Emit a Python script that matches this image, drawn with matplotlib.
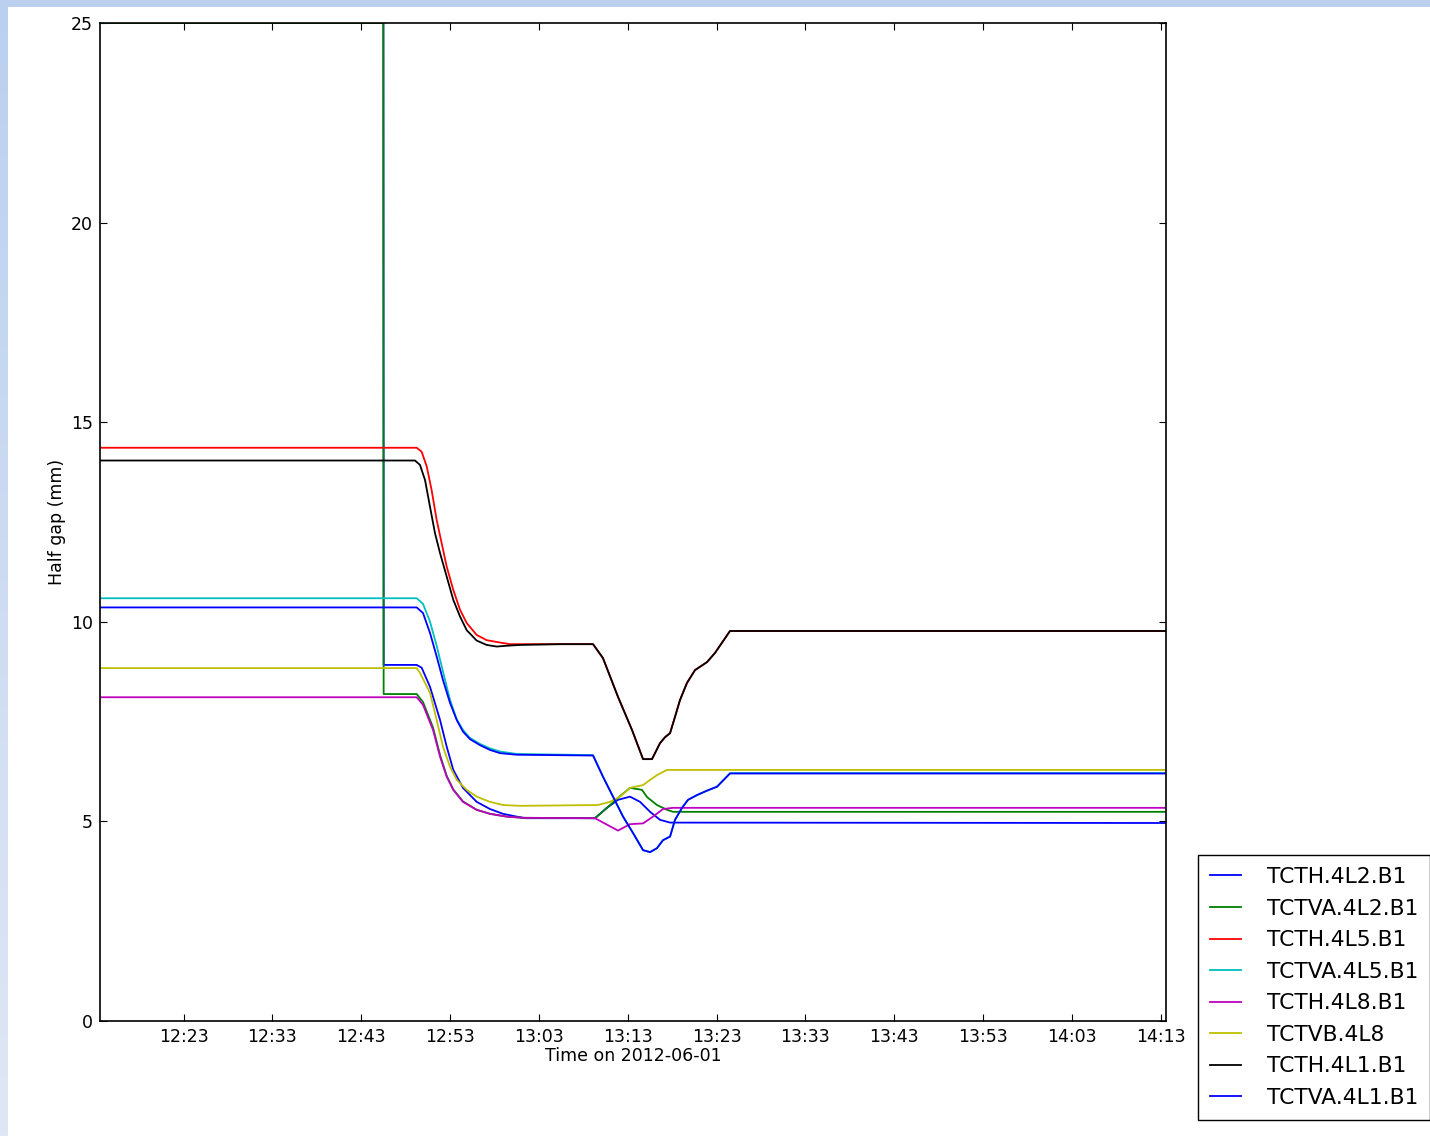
import numpy as np
import matplotlib.pyplot as plt
from matplotlib.ticker import FuncFormatter
from matplotlib.patches import Rectangle

# minutes after 12:00 on 2012-06-01, half gap in mm
t_4l2_h = [13.6, 45.50, 45.53, 49.25, 49.81, 50.75, 51.88, 52.63, 53.37, 54.46, 56.0, 57.50,
           58.97, 60.51, 61.5, 69.32, 70.67, 71.91, 73.26, 74.39, 75.52, 76.64, 77.77, 133.6]
v_4l2_h = [25.0, 25.0, 8.92, 8.92, 8.85, 8.37, 7.54, 6.87, 6.29, 5.84, 5.49, 5.31,
           5.19, 5.12, 5.08, 5.08, 5.34, 5.54, 5.62, 5.49, 5.24, 5.04, 4.97, 4.96]

t_4l2_va = [13.6, 45.50, 45.53, 49.25, 49.96, 51.09, 51.88, 52.63, 53.37, 54.46, 56.0, 57.50,
            59.38, 61.22, 69.32, 70.67, 71.91, 73.26, 74.61, 75.18, 76.30, 77.43, 78.11, 133.6]
v_4l2_va = [25.0, 25.0, 8.19, 8.19, 7.99, 7.35, 6.66, 6.14, 5.80, 5.50, 5.29, 5.19,
            5.12, 5.09, 5.08, 5.34, 5.59, 5.84, 5.79, 5.61, 5.41, 5.29, 5.24, 5.24]

t_4l5_h = [13.6, 49.25, 49.81, 50.38, 50.93, 51.50, 52.06, 52.63, 53.37, 54.13, 54.88, 56.0,
           57.13, 58.63, 59.76, 69.10, 70.22, 71.91, 73.49, 74.73, 75.74, 76.64, 77.21, 77.77,
           78.33, 78.89, 79.68, 80.58, 81.93, 82.83, 84.52, 133.6]
v_4l5_h = [14.36, 14.36, 14.26, 13.89, 13.30, 12.55, 11.97, 11.38, 10.80, 10.30, 9.97, 9.67,
           9.54, 9.48, 9.44, 9.44, 9.09, 8.12, 7.29, 6.56, 6.56, 6.96, 7.11, 7.21,
           7.62, 8.04, 8.47, 8.79, 8.99, 9.22, 9.77, 9.77]

t_4l5_va = [13.6, 49.25, 49.96, 50.75, 51.50, 52.21, 53.0, 53.76, 54.46, 55.25, 56.38, 57.50,
            58.63, 60.51, 69.10, 70.22, 71.35, 72.48, 73.60, 74.73, 75.52, 76.30, 76.98, 77.77,
            78.33, 79.12, 79.79, 80.81, 81.93, 83.06, 84.52, 133.6]
v_4l5_va = [10.59, 10.59, 10.45, 10.00, 9.40, 8.75, 8.05, 7.55, 7.29, 7.09, 6.94, 6.83,
            6.75, 6.69, 6.66, 6.12, 5.62, 5.12, 4.71, 4.28, 4.23, 4.33, 4.53, 4.62,
            5.04, 5.34, 5.54, 5.66, 5.77, 5.87, 6.21, 6.21]

t_4l8_h = [13.6, 49.25, 49.96, 51.09, 51.88, 52.63, 53.37, 54.46, 56.0, 57.50, 59.38, 61.22,
           69.32, 71.91, 73.26, 74.73, 75.85, 76.98, 78.11, 133.6]
v_4l8_h = [8.11, 8.11, 7.92, 7.29, 6.62, 6.12, 5.79, 5.49, 5.29, 5.19, 5.12, 5.09,
           5.08, 4.77, 4.93, 4.95, 5.12, 5.31, 5.34, 5.34]

t_4l8_vb = [13.6, 49.25, 49.62, 50.75, 51.50, 52.21, 53.0, 53.76, 54.88, 56.0, 57.50, 58.97,
            60.88, 69.66, 71.01, 72.14, 73.26, 74.73, 75.52, 76.30, 77.43, 133.6]
v_4l8_vb = [8.84, 8.84, 8.72, 8.22, 7.54, 6.87, 6.37, 6.04, 5.79, 5.62, 5.49, 5.41,
            5.39, 5.41, 5.49, 5.62, 5.84, 5.91, 6.04, 6.16, 6.29, 6.29]

t_4l1_h = [13.6, 49.06, 49.62, 50.19, 50.75, 51.31, 51.88, 52.63, 53.37, 54.13, 54.88, 56.0,
           57.13, 58.26, 59.38, 60.88, 65.38, 69.10, 70.22, 71.91, 73.49, 74.73, 75.74, 76.64,
           77.21, 77.77, 78.33, 78.89, 79.68, 80.58, 81.93, 82.83, 84.52, 133.6]
v_4l1_h = [14.04, 14.04, 13.93, 13.55, 12.88, 12.22, 11.72, 11.13, 10.55, 10.13, 9.79, 9.53,
           9.42, 9.38, 9.40, 9.42, 9.44, 9.44, 9.09, 8.12, 7.29, 6.56, 6.56, 6.96,
           7.11, 7.21, 7.62, 8.04, 8.47, 8.79, 8.99, 9.22, 9.77, 9.77]

t_4l1_va = [13.6, 49.25, 49.96, 50.75, 51.50, 52.21, 53.0, 53.76, 54.46, 55.25, 56.38, 57.50,
            58.63, 60.51, 69.10, 70.22, 71.35, 72.48, 73.60, 74.73, 75.52, 76.30, 76.98, 77.77,
            78.33, 79.12, 79.79, 80.81, 81.93, 83.06, 84.52, 133.6]
v_4l1_va = [10.36, 10.36, 10.22, 9.72, 9.13, 8.54, 7.97, 7.54, 7.25, 7.06, 6.91, 6.79,
            6.71, 6.67, 6.65, 6.12, 5.62, 5.12, 4.71, 4.28, 4.23, 4.33, 4.53, 4.62,
            5.04, 5.34, 5.54, 5.66, 5.77, 5.87, 6.20, 6.20]

names = ["TCTH.4L2.B1", "TCTVA.4L2.B1", "TCTH.4L5.B1", "TCTVA.4L5.B1",
         "TCTH.4L8.B1", "TCTVB.4L8", "TCTH.4L1.B1", "TCTVA.4L1.B1"]
series = [(t_4l2_h, v_4l2_h), (t_4l2_va, v_4l2_va), (t_4l5_h, v_4l5_h), (t_4l5_va, v_4l5_va),
          (t_4l8_h, v_4l8_h), (t_4l8_vb, v_4l8_vb), (t_4l1_h, v_4l1_h), (t_4l1_va, v_4l1_va)]
colors = [(0, 0, 1), (0, 0.5, 0), (1, 0, 0), (0, 0.75, 0.75),
          (0.75, 0, 0.75), (0.75, 0.75, 0), (0, 0, 0), (0, 0, 1)]

tick_minutes = [23, 33, 43, 53, 63, 73, 83, 93, 103, 113, 123, 133]


def hhmm(m, pos=None):
    m = int(round(m))
    return "%d:%02d" % (12 + m // 60, m % 60)


plt.rcParams['font.family'] = ['DejaVu Sans']
fig = plt.figure(figsize=(14.3, 11.36), dpi=100)
fig.patch.set_facecolor('white')

# slide background strips
band = fig.add_axes([0, 0, 8 / 1430, 1])
grad = np.linspace(0, 1, 256).reshape(-1, 1)
top_c = np.array([187, 208, 239]) / 255
bot_c = np.array([224, 231, 244]) / 255
band.imshow(top_c + (bot_c - top_c) * grad[:, :, None] * np.ones((1, 1, 3)),
            aspect='auto', extent=[0, 1, 0, 1], origin='upper')
band.axis('off')
fig.patches.append(Rectangle((0, 1 - 7 / 1136), 1, 7 / 1136, transform=fig.transFigure,
                             facecolor=top_c, edgecolor='none', zorder=0))

ax = fig.add_axes([100 / 1430, 1 - 1021 / 1136, 1066 / 1430, 998 / 1136])
for (t, v), c, n in zip(series, colors, names):
    ax.plot(t, v, color=c, lw=1.3, label=n)

ax.set_xlim(13.6, 133.6)
ax.set_ylim(0, 25)
ax.set_xticks(tick_minutes)
ax.xaxis.set_major_formatter(FuncFormatter(hhmm))
ax.set_yticks([0, 5, 10, 15, 20, 25])
ax.tick_params(direction='in', top=True, right=True, length=5, width=0.8,
               labelsize=12.5, pad=5)
ax.set_xlabel("Time on 2012-06-01", fontsize=12.5, labelpad=1)
ax.set_ylabel("Half gap (mm)", fontsize=12.5, labelpad=4)
for s in ax.spines.values():
    s.set_linewidth(1.2)

leg = fig.legend(loc='lower left', bbox_to_anchor=(1198 / 1430, 16 / 1136),
                 borderaxespad=0, fontsize=15.7, handlelength=1.42, handletextpad=1.2,
                 labelspacing=0.53, borderpad=0.55, fancybox=False,
                 edgecolor='black', framealpha=1)
leg.get_frame().set_linewidth(1.0)

plt.savefig('out.png', dpi=100)
